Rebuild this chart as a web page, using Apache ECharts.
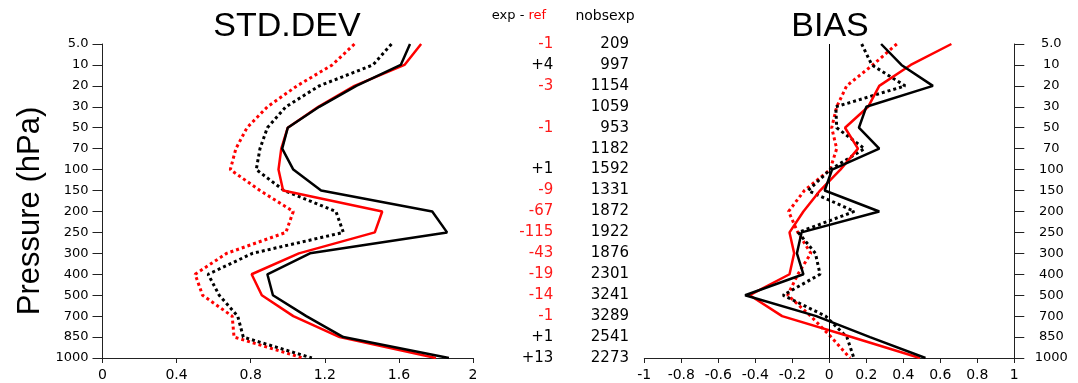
<!DOCTYPE html>
<html>
<head>
<meta charset="utf-8">
<script src="https://cdn.jsdelivr.net/npm/echarts@6/dist/echarts.min.js"></script>
<style>
html,body{margin:0;padding:0;background:#fff;}
#chart{width:1078px;height:383px;}
</style>
</head>
<body>
<div id="chart"></div>
<script>
// pressure levels (hPa), top to bottom
const levels = ['5.0','10','20','30','50','70','100','150','200','250','300','400','500','700','850','1000'];

// STD.DEV panel
const stdExp    = [1.66,1.61,1.37,1.17,1.00,0.97,1.03,1.18,1.78,1.86,1.12,0.89,0.92,1.10,1.30,1.87];
const stdRef    = [1.72,1.63,1.36,1.165,1.00,0.965,0.95,0.975,1.51,1.47,1.06,0.805,0.86,1.03,1.28,1.80];
const stdExpDot = [1.56,1.46,1.17,0.99,0.89,0.85,0.83,0.98,1.26,1.30,0.81,0.57,0.63,0.73,0.76,1.13];
const stdRefDot = [1.36,1.24,1.05,0.89,0.78,0.72,0.69,0.85,1.03,0.99,0.67,0.50,0.54,0.70,0.71,1.08];

// BIAS panel
const biasExp    = [0.28,0.39,0.56,0.20,0.16,0.27,0.015,-0.025,0.27,-0.15,-0.175,-0.14,-0.455,-0.07,0.22,0.52];
const biasRef    = [0.66,0.44,0.27,0.21,0.085,0.155,0.06,-0.05,-0.14,-0.215,-0.19,-0.215,-0.43,-0.255,0.12,0.49];
const biasExpDot = [0.175,0.23,0.41,0.035,0.04,0.19,0.005,-0.115,0.135,-0.168,-0.075,-0.05,-0.25,-0.02,0.095,0.133];
const biasRefDot = [0.365,0.235,0.094,0.04,0.013,0.04,0.004,-0.135,-0.22,-0.17,-0.1,-0.17,-0.225,-0.1,0.01,0.112];

// middle text columns
const expMinusRef = ['-1','+4','-3','','-1','','+1','-9','-67','-115','-43','-19','-14','-1','+1','+13'];
const nobsexp = ['209','997','1154','1059','953','1182','1592','1331','1872','1922','1876','2301','3241','3289','2541','2273'];

// x-axis ranges
const stdMin = 0, stdMax = 2, stdStep = 0.4;
const biasMin = -1, biasMax = 1, biasStep = 0.2;

const FONT = 'DejaVu Sans';
const axisLineStyle = {color:'#222', width:1};

function pairs(vals){ return vals.map((v,i)=>[v, levels[i]]); }

function lineSeries(vals, color, dotted, xi, yi, extra){
  return Object.assign({
    type:'line', xAxisIndex:xi, yAxisIndex:yi, data:pairs(vals),
    symbol:'none', silent:true, animation:false,
    lineStyle: dotted ? {color:color, width:3, type:[3,3]} : {color:color, width:2.5, type:'solid'}
  }, extra || {});
}

const chart = echarts.init(document.getElementById('chart'), null, {renderer:'canvas'});
const option = {
  backgroundColor:'#fff',
  animation:false,
  title:[
    {text:'STD.DEV', left:287, top:10, textAlign:'center', padding:0,
     textStyle:{fontSize:34, fontWeight:'normal', fontFamily:'Liberation Sans', color:'#000'}},
    {text:'BIAS', left:830, top:10, textAlign:'center', padding:0,
     textStyle:{fontSize:34, fontWeight:'normal', fontFamily:'Liberation Sans', color:'#000'}},
    {text:'{k|exp - }{r|ref}', left:519, top:9, textAlign:'center', padding:0,
     textStyle:{fontSize:13, fontWeight:'normal', fontFamily:FONT,
       rich:{k:{color:'#000', fontSize:13, fontFamily:FONT}, r:{color:'#ff0000', fontSize:13, fontFamily:FONT}}}},
    {text:'nobsexp', left:605, top:9, textAlign:'center', padding:0,
     textStyle:{fontSize:14, fontWeight:'normal', fontFamily:FONT, color:'#000'}}
  ],
  grid:[
    {left:102.5, top:44, width:370.5, bottom:25},
    {left:644.3, top:44, width:370, bottom:25}
  ],
  xAxis:[
    {type:'value', gridIndex:0, min:stdMin, max:stdMax, interval:stdStep,
     axisLine:{show:true, lineStyle:axisLineStyle},
     axisTick:{show:true, inside:false, length:5, lineStyle:axisLineStyle},
     axisLabel:{color:'#000', fontSize:14, fontFamily:FONT, margin:10},
     splitLine:{show:false}},
    {type:'value', gridIndex:1, min:biasMin, max:biasMax, interval:biasStep,
     axisLine:{show:true, onZero:false, lineStyle:axisLineStyle},
     axisTick:{show:true, inside:false, length:5, lineStyle:axisLineStyle},
     axisLabel:{color:'#000', fontSize:14, fontFamily:FONT, margin:10},
     splitLine:{show:false}}
  ],
  yAxis:[
    {type:'category', gridIndex:0, data:levels, inverse:true, boundaryGap:false, position:'left',
     axisLine:{show:true, onZero:false, lineStyle:axisLineStyle},
     axisTick:{show:true, inside:false, length:10, lineStyle:axisLineStyle},
     axisLabel:{color:'#000', fontSize:13, fontFamily:FONT, margin:14, interval:0},
     splitLine:{show:false},
     name:'Pressure (hPa)', nameLocation:'middle', nameRotate:90, nameGap:57,
     nameTextStyle:{fontSize:31, fontFamily:'Liberation Sans', color:'#000', padding:[0,20,0,0]}},
    {type:'category', gridIndex:0, data:levels, inverse:true, boundaryGap:false, position:'right',
     axisLine:{show:false}, axisTick:{show:false}, splitLine:{show:false},
     axisLabel:{interval:0, align:'right', margin:156, color:'#000', fontSize:15, fontFamily:FONT,
       formatter:(v,i)=>nobsexp[i]}},
    {type:'category', gridIndex:1, data:levels, inverse:true, boundaryGap:false, position:'right',
     axisLine:{show:true, onZero:false, lineStyle:axisLineStyle},
     axisTick:{show:true, inside:false, length:10, lineStyle:axisLineStyle},
     axisLabel:{color:'#000', fontSize:13, fontFamily:FONT, margin:37, align:'center', interval:0},
     splitLine:{show:false}},
    {type:'category', gridIndex:1, data:levels, inverse:true, boundaryGap:false, position:'left',
     axisLine:{show:false}, axisTick:{show:false}, splitLine:{show:false},
     axisLabel:{interval:0, align:'right', margin:91, fontSize:15, fontFamily:FONT,
       formatter:(v,i)=>{ const s = expMinusRef[i]; if(!s) return ''; return s.charAt(0)==='+' ? '{k|'+s+'}' : '{r|'+s+'}'; },
       rich:{k:{color:'#000', fontSize:15, fontFamily:FONT}, r:{color:'#ff1a1a', fontSize:15, fontFamily:FONT}}}}
  ],
  series:[
    lineSeries(stdRefDot, '#ff0000', true, 0, 0),
    lineSeries(stdExpDot, '#000000', true, 0, 0),
    lineSeries(stdRef, '#ff0000', false, 0, 0),
    lineSeries(stdExp, '#000000', false, 0, 0),
    lineSeries(biasRefDot, '#ff0000', true, 1, 2, {
      markLine:{silent:true, symbol:'none', label:{show:false}, animation:false,
        lineStyle:{color:'#000', width:1, type:'solid'}, data:[{xAxis:0}]}}),
    lineSeries(biasExpDot, '#000000', true, 1, 2),
    lineSeries(biasRef, '#ff0000', false, 1, 2),
    lineSeries(biasExp, '#000000', false, 1, 2)
  ]
};
chart.setOption(option);
</script>
</body>
</html>
